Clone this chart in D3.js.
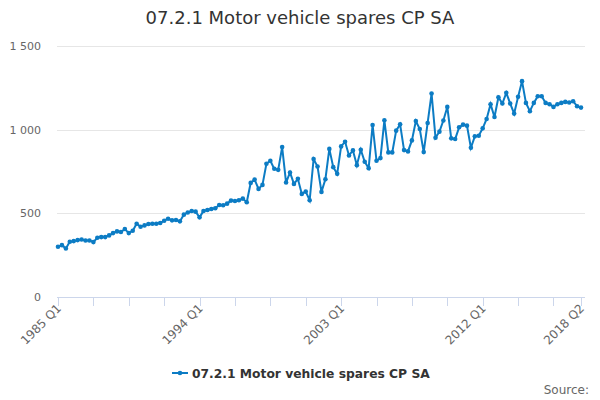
<!DOCTYPE html>
<html><head><meta charset="utf-8">
<script src="https://cdn.jsdelivr.net/npm/d3@7/dist/d3.min.js"></script>
<style>
body{margin:0;background:#fff;}
svg{display:block;font-family:"DejaVu Sans",sans-serif;}
</style></head>
<body><svg id="c" width="600" height="400"></svg>
<script>
const title = "07.2.1 Motor vehicle spares CP SA";
const seriesName = "07.2.1 Motor vehicle spares CP SA";
const startYear = 1985;
const values = [
300,310,290,330,334,340,344,338,338,328,354,358,358,368,382,392,388,406,382,396,
438,420,428,436,438,438,442,456,468,458,460,452,492,505,514,510,476,514,520,526,
530,550,548,558,576,574,578,588,566,682,702,646,670,796,814,766,760,896,684,744,
676,706,616,630,578,824,780,628,704,885,776,736,900,928,846,876,788,880,808,770,
1028,814,830,1056,864,864,994,1032,878,870,936,1052,1004,866,1040,1216,952,988,1055,1136,
948,944,1014,1030,1024,892,960,964,1008,1064,1152,1076,1194,1156,1220,1156,1096,1196,1290,1160,
1110,1160,1200,1200,1160,1152,1136,1152,1160,1166,1162,1170,1140,1132
];
const categories = values.map((v,i)=> (startYear + Math.floor(i/4)) + " Q" + (i%4+1));
const yTicks = [0,500,1000,1500];
const xLabels = ["1985 Q1","1994 Q1","2003 Q1","2012 Q1","2018 Q2"];

const svg = d3.select("#c");
const W=600,H=400;
const mLeft=58, mRight=581, mTop=46, mBottom=297;
const x = d3.scalePoint().domain(categories).range([mLeft,mRight]);
const y = d3.scaleLinear().domain([0,1500]).range([mBottom,mTop]);
const fmt = v => d3.format(",")(v).replace(/,/g," ");

svg.append("text").attr("x",W/2).attr("y",24).attr("text-anchor","middle")
  .attr("font-size","18px").attr("fill","#333").text(title);

// grid
svg.append("g").selectAll("line").data(yTicks.filter(t=>t>0)).join("line")
  .attr("x1",57).attr("x2",585).attr("y1",d=>Math.round(y(d))+0.5).attr("y2",d=>Math.round(y(d))+0.5)
  .attr("stroke","#e6e6e6").attr("stroke-width",1);
svg.append("g").selectAll("text").data(yTicks).join("text")
  .attr("x",41).attr("y",d=>y(d)+4).attr("text-anchor","end")
  .attr("font-size","11px").attr("fill","#666").text(fmt);

// x axis
const xa = svg.append("g");
xa.append("line").attr("x1",57).attr("x2",585).attr("y1",mBottom+0.5).attr("y2",mBottom+0.5)
  .attr("stroke","#ccd6eb");
const tickCats = categories.filter((c,i)=> i%9===0 || i===categories.length-1);
xa.selectAll("line.t").data(tickCats).join("line").attr("class","t")
  .attr("x1",d=>Math.round(x(d))+0.5).attr("x2",d=>Math.round(x(d))+0.5)
  .attr("y1",mBottom).attr("y2",mBottom+9).attr("stroke","#ccd6eb");
xa.selectAll("text").data(xLabels).join("text")
  .attr("transform",d=>`translate(${x(d)+4},${mBottom+12}) rotate(-45)`)
  .attr("text-anchor","end").attr("font-size","12px").attr("fill","#666").text(d=>d);

// line
const color = "#0c7cc4";
svg.append("path").datum(values)
  .attr("d", d3.line().x((d,i)=>x(categories[i])).y(d=>y(d)))
  .attr("fill","none").attr("stroke",color).attr("stroke-width",2);
svg.append("g").selectAll("circle").data(values).join("circle")
  .attr("cx",(d,i)=>x(categories[i])).attr("cy",d=>y(d)).attr("r",2.3).attr("fill",color);

// legend
const lg = svg.append("g").attr("transform","translate(172,373)");
lg.append("line").attr("x1",0).attr("x2",16).attr("y1",0).attr("y2",0).attr("stroke",color).attr("stroke-width",2);
lg.append("circle").attr("cx",8).attr("cy",0).attr("r",2.3).attr("fill",color);
lg.append("text").attr("x",20).attr("y",4.5).attr("font-size","12.3px").attr("font-weight","bold")
  .attr("fill","#333").text(seriesName);

svg.append("text").attr("x",589).attr("y",394).attr("text-anchor","end")
  .attr("font-size","12px").attr("fill","#666").text("Source:");
</script></body></html>
